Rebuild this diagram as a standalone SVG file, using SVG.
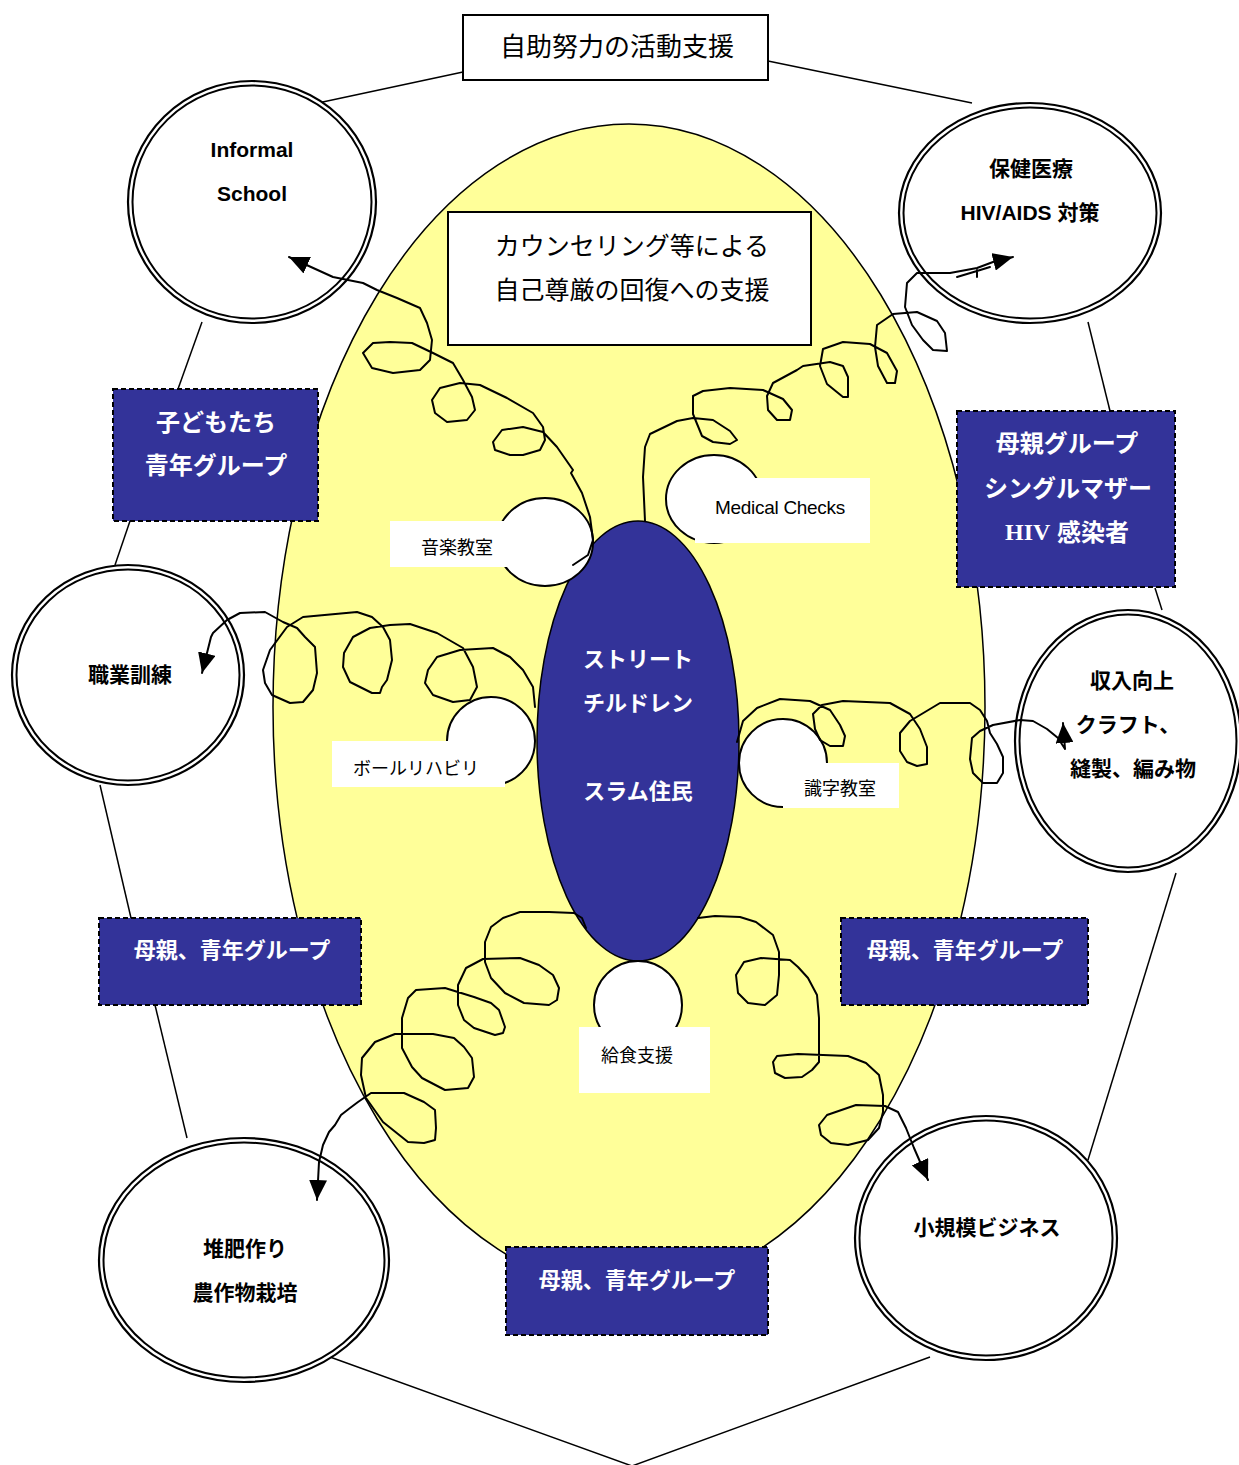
<svg xmlns="http://www.w3.org/2000/svg" width="1239" height="1465" viewBox="0 0 1239 1465">
<defs>
<style>
text{font-family:"Liberation Sans","Noto Sans CJK JP",sans-serif;text-anchor:middle;dominant-baseline:central}
.title{font-size:26px;fill:#000}
.c{font-size:21px;font-weight:bold;fill:#000}
.bw{font-size:24px;font-weight:bold;fill:#fff}
.bw2{font-size:22px;font-weight:bold;fill:#fff}
.s{font-size:18px;fill:#000}
.ring{fill:none;stroke:#000;stroke-width:1.5}
.outer{fill:#fff;stroke:#000;stroke-width:2.2}
.inner{fill:none;stroke:#000;stroke-width:2}
.navy{fill:#333399;stroke:#000;stroke-width:2;stroke-dasharray:5 3}
.lbl{fill:#fff}
.sc{fill:#fff;stroke:#000;stroke-width:2}
.curl{fill:none;stroke:#000;stroke-width:2;stroke-linejoin:round;stroke-linecap:round}
.arr{marker-end:url(#ah)}
.wbox{fill:#fff;stroke:#000;stroke-width:2}
</style>
<marker id="ah" markerUnits="userSpaceOnUse" markerWidth="20" markerHeight="18" refX="20" refY="9" orient="auto" viewBox="0 0 20 18"><path d="M0,0 L20,9 L0,18 z" fill="#000"/></marker>
</defs>
<rect width="1239" height="1465" fill="#fff"/>

<g id="ring-lines">
<path class="ring" d="M318,103 L463,72"/>
<path class="ring" d="M768,61 L972,103"/>
<path class="ring" d="M202,322 L178,389"/>
<path class="ring" d="M130,521 L115,565"/>
<path class="ring" d="M100,785 L131,918"/>
<path class="ring" d="M155,1005 L187,1138"/>
<path class="ring" d="M330,1357 L632,1466 L930,1357"/>
<path class="ring" d="M1088,1160 L1176,873"/>
<path class="ring" d="M1162,610 L1155,588"/>
<path class="ring" d="M1110,411 L1088,322"/>
</g>

<g id="field">
<ellipse cx="629" cy="707" rx="356" ry="583" fill="#ffff99" stroke="#000" stroke-width="1.5"/>
</g>

<g id="title-box">
<rect class="wbox" x="463" y="15" width="305" height="65"/>
<text class="title" x="617" y="47">自助努力の活動支援</text>
</g>

<g id="counseling-box">
<rect class="wbox" x="448" y="212" width="363" height="133"/>
<text class="title" x="632" y="246" style="font-size:25px">カウンセリング等による</text>
<text class="title" x="632" y="290" style="font-size:25px">自己尊厳の回復への支援</text>
</g>

<g id="center">
<ellipse cx="638" cy="741" rx="101" ry="220" fill="#333399" stroke="#000" stroke-width="1.5"/>
<text class="bw2" x="638" y="659">ストリート</text>
<text class="bw2" x="638" y="703">チルドレン</text>
<text class="bw2" x="638" y="791">スラム住民</text>
</g>

<g id="music">
<ellipse class="sc" cx="545" cy="542" rx="48" ry="44"/>
<rect class="lbl" x="390" y="521" width="170" height="46"/>
<text class="s" x="457" y="548">音楽教室</text>
</g>
<g id="medical">
<ellipse class="sc" cx="714" cy="499" rx="48" ry="44"/>
<rect class="lbl" x="695" y="478" width="175" height="65"/>
<text class="s" x="780" y="507" style="font-size:19px;letter-spacing:-0.3px">Medical Checks</text>
</g>
<g id="ball">
<circle class="sc" cx="491" cy="741" r="44"/>
<rect class="lbl" x="332" y="741" width="173" height="46"/>
<text class="s" x="416" y="769">ボールリハビリ</text>
</g>
<g id="literacy">
<circle class="sc" cx="783" cy="763" r="44"/>
<rect class="lbl" x="783" y="763" width="116" height="45"/>
<text class="s" x="840" y="789">識字教室</text>
</g>
<g id="meal">
<circle class="sc" cx="638" cy="1005" r="44"/>
<rect class="lbl" x="579" y="1027" width="131" height="66"/>
<text class="s" x="637" y="1056">給食支援</text>
</g>

<g id="informal-school">
<ellipse class="outer" cx="252" cy="202" rx="124" ry="121"/>
<ellipse class="inner" cx="252" cy="202" rx="119.5" ry="116.5"/>
<text class="c" x="252" y="149">Informal</text>
<text class="c" x="252" y="193">School</text>
</g>
<g id="health">
<ellipse class="outer" cx="1030" cy="213" rx="131" ry="110"/>
<ellipse class="inner" cx="1030" cy="213" rx="126.5" ry="105.5"/>
<text class="c" x="1031" y="168">保健医療</text>
<text class="c" x="1030" y="212">HIV/AIDS 対策</text>
</g>
<g id="vocational">
<ellipse class="outer" cx="128" cy="675" rx="116" ry="110"/>
<ellipse class="inner" cx="128" cy="675" rx="111.5" ry="105.5"/>
<text class="c" x="130" y="674">職業訓練</text>
</g>
<g id="income">
<ellipse class="outer" cx="1128" cy="741" rx="113" ry="131"/>
<ellipse class="inner" cx="1128" cy="741" rx="108.5" ry="126.5"/>
<text class="c" x="1132" y="680">収入向上</text>
<text class="c" x="1128" y="724">クラフト、</text>
<text class="c" x="1133" y="768">縫製、編み物</text>
</g>
<g id="compost">
<ellipse class="outer" cx="244" cy="1260" rx="145" ry="122"/>
<ellipse class="inner" cx="244" cy="1260" rx="140.5" ry="117.5"/>
<text class="c" x="245" y="1248">堆肥作り</text>
<text class="c" x="245" y="1292">農作物栽培</text>
</g>
<g id="business">
<ellipse class="outer" cx="986" cy="1238" rx="131" ry="122"/>
<ellipse class="inner" cx="986" cy="1238" rx="126.5" ry="117.5"/>
<text class="c" x="987" y="1227">小規模ビジネス</text>
</g>

<g id="group-children">
<rect class="navy" x="113" y="389" width="205" height="132"/>
<text class="bw" x="216" y="422">子どもたち</text>
<text class="bw" x="216" y="465">青年グループ</text>
</g>
<g id="group-mothers">
<rect class="navy" x="957" y="411" width="218" height="176"/>
<text class="bw" x="1067" y="443">母親グループ</text>
<text class="bw" x="1068" y="488">シングルマザー</text>
<text class="bw" x="1067" y="532"><tspan style="font-family:'Liberation Serif',serif">HIV</tspan> 感染者</text>
</g>
<g id="group-left">
<rect class="navy" x="99" y="918" width="262" height="87"/>
<text class="bw2" x="232" y="950">母親、青年グループ</text>
</g>
<g id="group-right">
<rect class="navy" x="841" y="918" width="247" height="87"/>
<text class="bw2" x="965" y="950">母親、青年グループ</text>
</g>
<g id="group-bottom">
<rect class="navy" x="506" y="1247" width="262" height="88"/>
<text class="bw2" x="637" y="1280">母親、青年グループ</text>
</g>

<g id="connectors">
<path class="curl arr" d="M573,565 L588,555 L593,540 L590,517 L582,493 L571,473 L573,470 L557,447 L543,432 L523,427 L502,430 L493,442 L495,450 L510,455 L523,455 L540,450 L545,440 L543,427 L533,413 L507,398 L480,385 L460,383 L440,388 L432,400 L435,413 L447,422 L467,420 L475,410 L472,397 L463,380 L453,363 L433,353 L412,343 L390,342 L373,343 L363,353 L372,368 L393,373 L420,370 L430,360 L432,340 L427,323 L420,308 L397,298 L377,290 L363,283 L333,277 L289,257"/>
<path class="curl arr" d="M535,707 L533,687 L523,670 L510,657 L493,648 L460,650 L437,657 L428,670 L425,683 L433,695 L453,702 L470,700 L477,687 L473,667 L463,648 L437,633 L410,624 L390,625 L370,628 L353,637 L344,653 L343,667 L350,682 L372,693 L380,693 L382,687 L387,680 L392,660 L390,640 L383,627 L372,617 L357,612 L303,617 L287,627 L270,650 L263,670 L265,683 L272,695 L290,703 L303,702 L313,690 L317,673 L315,647 L305,637 L297,628 L283,622 L265,612 L240,613 L227,620 L213,633 L211,637 L202,673"/>
<path class="curl arr" d="M645,521 L643,477 L645,447 L650,434 L677,421 L693,418 L713,420 L730,431 L737,440 L730,444 L713,442 L702,436 L693,414 L693,396 L703,391 L730,388 L763,390 L783,399 L792,410 L790,420 L777,420 L768,410 L767,396 L773,383 L797,370 L803,366 L830,362 L843,366 L848,377 L848,397 L843,397 L827,384 L820,366 L823,349 L843,342 L870,344 L887,353 L897,371 L895,383 L887,383 L878,366 L875,347 L877,325 L893,314 L917,312 L937,321 L945,333 L947,351 L933,350 L923,340 L912,325 L905,307 L907,283 L917,273 L930,273 L950,273 L977,268 L993,262 L1013,257"/>
<path class="curl" d="M957,277 L977,271 L990,267 M977,270 L977,277"/>
<path class="curl arr" d="M737,742 L743,721 L757,708 L780,699 L810,701 L830,710 L840,725 L845,736 L843,746 L830,746 L820,740 L815,729 L813,714 L822,705 L843,701 L890,703 L910,714 L920,729 L927,747 L927,764 L917,766 L907,762 L900,751 L900,733 L910,721 L940,703 L970,703 L980,710 L987,721 L990,733 L997,744 L1003,757 L1003,773 L997,783 L983,783 L973,773 L970,759 L972,738 L980,731 L993,725 L1020,720 L1033,721 L1047,729 L1058,738 L1065,749 L1063,723"/>
<path class="curl arr" d="M586,928 L582,918 L574,913 L549,912 L520,912 L503,918 L491,927 L485,942 L485,962 L491,978 L505,993 L524,1003 L549,1005 L557,1000 L559,988 L553,975 L539,965 L520,958 L483,959 L466,968 L458,985 L458,1005 L464,1020 L474,1028 L495,1035 L503,1033 L505,1027 L499,1010 L491,1003 L474,997 L445,988 L416,990 L408,998 L402,1018 L402,1048 L412,1067 L422,1078 L445,1090 L468,1088 L474,1077 L472,1058 L464,1047 L454,1038 L433,1034 L395,1034 L375,1042 L362,1058 L361,1075 L366,1098 L383,1122 L408,1142 L424,1143 L435,1140 L436,1128 L435,1110 L424,1102 L404,1093 L371,1093 L358,1102 L350,1108 L341,1115 L335,1125 L329,1132 L323,1145 L319,1162 L317,1200"/>
<path class="curl arr" d="M698,918 L715,916 L740,917 L756,922 L773,935 L779,952 L779,975 L777,995 L765,1005 L748,1003 L738,993 L736,975 L744,962 L761,958 L790,960 L798,967 L808,978 L817,995 L819,1018 L819,1062 L812,1070 L802,1077 L785,1078 L775,1073 L773,1062 L777,1056 L798,1054 L848,1056 L866,1063 L879,1075 L883,1095 L883,1112 L879,1128 L868,1140 L848,1145 L831,1143 L821,1135 L819,1125 L827,1115 L856,1105 L885,1106 L898,1112 L906,1128 L914,1148 L928,1180"/>
</g>
</svg>
